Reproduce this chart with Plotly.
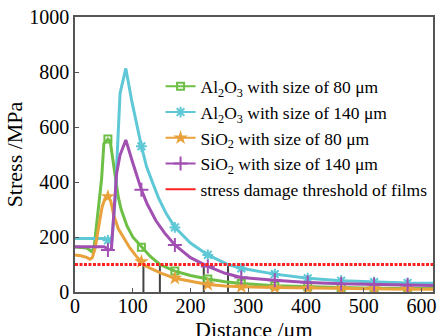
import plotly.graph_objects as go

# ---- data ----
al80_x = [0, 10, 20, 26, 29, 33, 40, 46, 50, 57, 61, 66, 70, 75, 80, 90, 100, 115, 130, 147, 173, 200, 230, 260, 288, 346, 403, 461, 518, 576, 620]
al80_y = [164, 163, 160, 152, 147, 160, 300, 410, 540, 556, 548, 470, 407, 345, 300, 240, 200, 163, 130, 100, 76, 60, 47, 37, 31, 23, 19, 16, 14, 13, 13]

al140_x = [0, 20, 40, 48, 53, 57, 61, 64, 67, 70, 72, 76, 78, 88, 98, 115, 124, 133, 145, 158, 173, 200, 230, 265, 288, 346, 403, 461, 518, 576, 620]
al140_y = [195, 195, 195, 195, 192, 188, 182, 190, 260, 350, 450, 650, 722, 813, 698, 530, 455, 405, 340, 285, 235, 178, 135, 100, 86, 65, 50, 41, 36, 33, 32]

si80_x = [0, 10, 20, 26, 30, 35, 40, 47, 52, 57, 62, 67, 75, 84, 95, 105, 115, 118, 130, 150, 173, 200, 230, 260, 288, 346, 403, 461, 518, 576, 620]
si80_y = [135, 132, 126, 119, 125, 160, 225, 310, 340, 347, 330, 280, 230, 200, 160, 133, 110, 100, 87, 68, 50, 38, 27, 22, 19, 16, 14, 12, 11, 10, 10]

si140_x = [0, 20, 40, 50, 54, 57, 63, 67, 72, 78, 88, 100, 115, 125, 140, 155, 173, 200, 223, 230, 260, 288, 346, 403, 461, 518, 576, 620]
si140_y = [165, 165, 165, 165, 160, 153, 155, 298, 430, 498, 553, 470, 372, 320, 260, 215, 171, 125, 100, 93, 68, 53, 43, 35, 30, 27, 25, 24]

marker_x = [57, 115, 173, 230, 288, 346, 403, 461, 518, 576]

threshold = 100
cross_x = [118.5, 147, 223, 265]

names = ["Al<sub>2</sub>O<sub>3</sub> with size of 80 μm",
         "Al<sub>2</sub>O<sub>3</sub> with size of 140 μm",
         "SiO<sub>2</sub> with size of 80 μm",
         "SiO<sub>2</sub> with size of 140 μm",
         "stress damage threshold of films"]

x_title = "Distance /μm"
y_title = "Stress /MPa"
x_ticks = [0, 100, 200, 300, 400, 500, 600]
y_ticks = [0, 200, 400, 600, 800, 1000]

# ---- styles ----
GREEN, CYAN, ORANGE, PURPLE = "#6dbf45", "#5ec8d6", "#e9a23b", "#a24fb2"
series = [
    (al80_x, al80_y, GREEN, dict(symbol="square-open", size=7, color=GREEN, line=dict(width=2, color=GREEN))),
    (al140_x, al140_y, CYAN, dict(symbol="asterisk-open", size=9, color=CYAN, line=dict(width=2, color=CYAN))),
    (si80_x, si80_y, ORANGE, dict(symbol="star", size=11, color=ORANGE, line=dict(width=0))),
    (si140_x, si140_y, PURPLE, dict(symbol="cross-thin-open", size=10, color=PURPLE, line=dict(width=2, color=PURPLE))),
]

fig = go.Figure()
FONT = "Liberation Serif"

# vertical intersection lines
vx, vy = [], []
for c in cross_x:
    vx += [c, c, None]
    vy += [0, threshold, None]
fig.add_trace(go.Scatter(x=vx, y=vy, mode="lines", line=dict(color="#444444", width=2),
                         showlegend=False, hoverinfo="skip"))

for i, (xs, ys, col, mk) in enumerate(series):
    fig.add_trace(go.Scatter(x=xs, y=ys, mode="lines", line=dict(color=col, width=3),
                             showlegend=False))
    mx = [x for x in xs if x in marker_x]
    my = [y for x, y in zip(xs, ys) if x in marker_x]
    fig.add_trace(go.Scatter(x=mx, y=my, mode="markers", marker=mk, showlegend=False))

# threshold line
fig.add_trace(go.Scatter(x=[0, 625], y=[threshold, threshold], mode="lines",
                         line=dict(color="#ff2020", width=3, dash="3px,1.5px"), showlegend=False))

# legend entries
for i, (xs, ys, col, mk) in enumerate(series):
    fig.add_trace(go.Scatter(x=[None], y=[None], mode="lines+markers", name=names[i],
                             line=dict(color=col, width=2), marker=mk))
fig.add_trace(go.Scatter(x=[None], y=[None], mode="lines", name=names[4],
                         line=dict(color="#ff2020", width=2)))

fig.update_layout(
    width=440, height=336,
    margin=dict(l=75, r=7, t=17, b=44),
    paper_bgcolor="white", plot_bgcolor="white",
    font=dict(family=FONT, size=20, color="black"),
    showlegend=True,
    legend=dict(x=0.239, y=0.813, xanchor="left", yanchor="top",
                bgcolor="rgba(0,0,0,0)", font=dict(size=17.5, family=FONT),
                itemwidth=30, tracegroupgap=0),
    annotations=[dict(text=x_title, xref="paper", yref="paper", x=0.5, y=-0.135,
                      xanchor="center", yanchor="middle", showarrow=False,
                      font=dict(size=22, family=FONT, color="black"))],
)
fig.update_xaxes(range=[0, 620], tickvals=x_ticks, ticks="inside", ticklen=4, tickcolor="#555",
                 showline=True, linecolor="#555", linewidth=1.5, mirror=True, showgrid=False,
                 zeroline=False, automargin=False, ticklabelstandoff=-5, ticklabeloverflow="allow",
                 tickfont=dict(size=20, family=FONT))
fig.update_yaxes(range=[0, 1000], tickvals=y_ticks, ticks="inside", ticklen=4, tickcolor="#555",
                 showline=True, linecolor="#555", linewidth=1.5, mirror=True, showgrid=False,
                 zeroline=False, automargin=False, ticklabeloverflow="allow",
                 title=dict(text=y_title, font=dict(size=22, family=FONT), standoff=1),
                 tickfont=dict(size=20, family=FONT))

# remove the default page margin so the 440x336 figure fills the window exactly
fig.write_html("out.html", config={"displayModeBar": False},
               post_script="document.body.style.margin='0';document.body.style.overflow='hidden';")
